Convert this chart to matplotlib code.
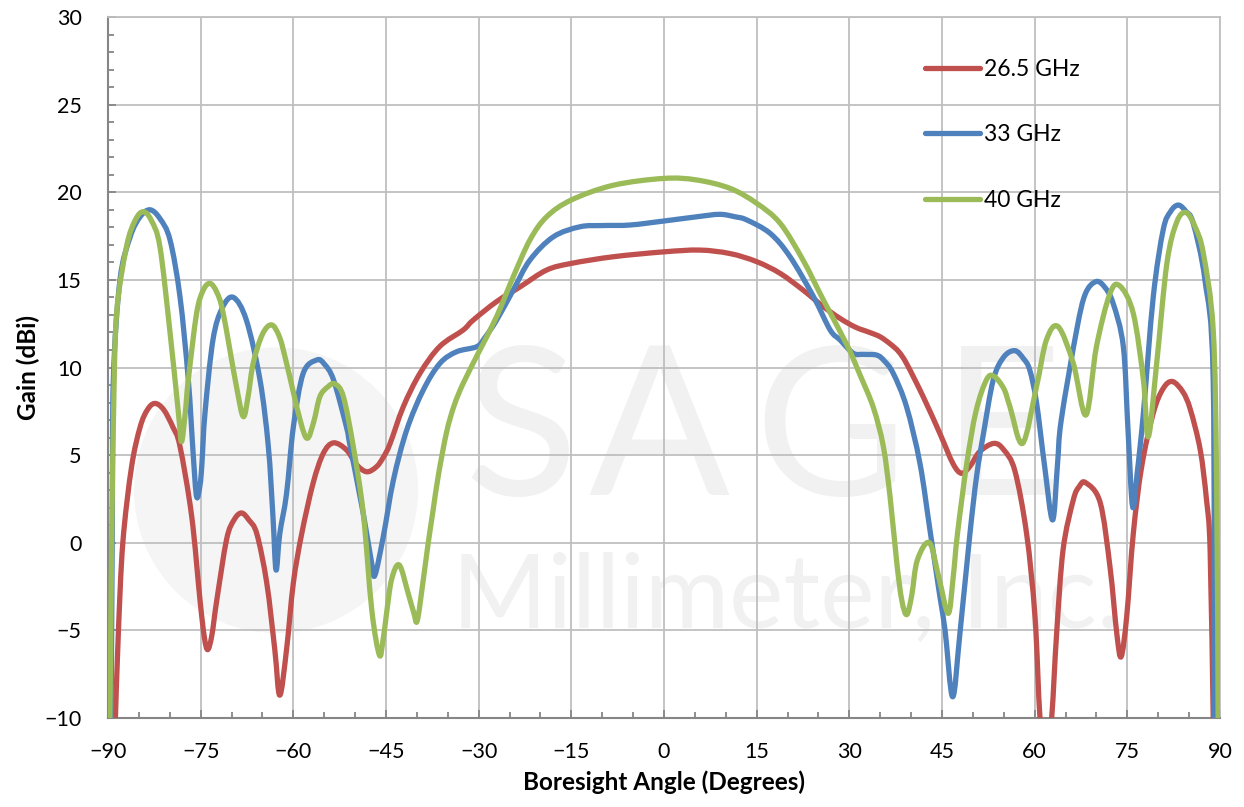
import numpy as np
import matplotlib.pyplot as plt
from matplotlib.ticker import MultipleLocator
from matplotlib.patches import Ellipse, PathPatch
from matplotlib.path import Path
from matplotlib.lines import Line2D

plt.rcParams['font.family'] = ['Lato', 'DejaVu Sans']

# 26.5 GHz
red_x = [-88.8, -88.33, -87.6, -86.2, -84.8, -83.6, -82.4, -81.0, -79.5, -78.35,
         -76.45, -75.1, -74.4, -73.86, -73.2, -72.4, -70.8, -69.6, -68.4, -67.2,
         -65.9, -64.3, -63.0, -62.2, -61.1, -60.0, -58.65, -56.8, -55.15, -53.5,
         -51.4, -49.75, -48.1, -46.5, -45.4, -44.35, -42.2, -39.5, -36.3, -32.5,
         -30.9, -27.1, -23.3, -19.0, -15.0, -8.2, 0.0, 5.8, 10.7, 15.0,
         18.8, 22.5, 25.8, 28.5, 31.0, 33.3, 35.0, 36.6, 38.0, 39.3,
         42.0, 44.7, 46.8, 48.2, 49.6, 51.1, 53.4, 55.0, 56.8, 58.7,
         60.05, 60.86, 61.8, 62.75, 63.55, 64.6, 66.25, 67.2, 68.25, 70.6,
         72.2, 73.3, 74.0, 74.9, 75.96, 77.3, 79.2, 80.8, 82.3, 84.0,
         85.2, 86.8, 87.8, 88.4, 88.9]
red_y = [-10.0, -5.2, 0.0, 4.3, 6.6, 7.6, 7.95, 7.6, 6.6, 5.5,
         1.5, -3.3, -5.4, -6.1, -5.3, -3.3, 0.2, 1.3, 1.7, 1.3,
         0.5, -2.3, -6.1, -8.7, -6.1, -2.3, 0.5, 3.4, 5.1, 5.7,
         5.3, 4.45, 4.05, 4.35, 4.9, 5.65, 7.76, 9.67, 11.2, 12.14,
         12.7, 13.76, 14.6, 15.56, 15.94, 16.32, 16.6, 16.7, 16.5, 16.04,
         15.37, 14.42, 13.47, 12.8, 12.3, 12.0, 11.75, 11.35, 10.9, 10.2,
         8.3, 6.2, 4.5, 3.96, 4.4, 5.2, 5.67, 5.3, 4.1, 0.5,
         -4.2, -10.0, -13.0, -10.0, -5.2, -0.4, 2.44, 3.2, 3.43, 2.3,
         -1.4, -5.2, -6.5, -4.2, 0.5, 4.3, 7.4, 8.8, 9.2, 8.6,
         7.6, 5.3, 2.5, -0.4, -10.0]

# 33 GHz
blue_x = [-89.5, -89.3, -89.14, -88.06, -86.4, -84.8, -83.2, -81.6, -79.96, -78.35,
          -77.0, -76.2, -75.66, -75.1, -74.8, -74.3, -73.0, -71.5, -69.7, -67.6,
          -65.4, -64.05, -63.3, -62.8, -62.2, -61.1, -60.0, -58.4, -56.2, -55.0,
          -53.5, -51.4, -50.8, -48.7, -47.3, -46.78, -45.44, -43.8, -41.65, -38.96,
          -36.26, -33.56, -30.3, -29.0, -27.1, -24.4, -21.7, -17.9, -13.6, -10.0,
          -5.5, 0.0, 5.3, 9.0, 11.5, 13.4, 17.2, 20.4, 24.2, 26.9,
          28.5, 30.65, 32.3, 34.4, 35.6, 37.1, 39.26, 41.43, 43.05, 44.67,
          45.5, 46.72, 47.9, 49.53, 50.6, 51.7, 53.3, 55.0, 56.8, 58.2,
          59.2, 60.3, 61.6, 62.9, 63.7, 64.3, 66.8, 68.2, 69.9, 71.3,
          72.7, 74.35, 75.1, 75.85, 76.6, 77.6, 79.2, 80.8, 82.0, 83.25,
          84.5, 85.67, 87.56, 88.9, 89.06]
blue_y = [-10.0, 1.0, 9.3, 15.0, 17.46, 18.6, 19.0, 18.5, 17.28, 14.04,
          9.3, 5.0, 2.63, 3.3, 4.5, 7.4, 11.6, 13.4, 14.0, 12.7,
          9.3, 5.5, 1.5, -1.55, 0.5, 2.8, 6.6, 9.67, 10.43, 10.2,
          9.3, 6.6, 5.5, 1.7, -1.2, -1.84, 0.35, 3.58, 6.43, 8.72,
          10.24, 10.9, 11.19, 11.7, 12.7, 14.42, 16.13, 17.46, 18.03, 18.1,
          18.13, 18.36, 18.6, 18.74, 18.6, 18.42, 17.65, 16.32, 14.04, 12.14,
          11.57, 10.81, 10.75, 10.71, 10.4, 9.67, 7.76, 4.53, 0.73, -3.1,
          -5.0, -8.79, -5.17, 0.54, 3.8, 6.2, 9.3, 10.6, 10.96, 10.5,
          9.86, 8.0, 4.4, 1.3, 4.5, 7.0, 12.14, 14.2, 14.9, 14.6,
          13.66, 11.2, 6.5, 2.06, 4.0, 7.4, 14.04, 17.85, 18.9, 19.27,
          18.9, 18.22, 15.0, 9.3, -10.0]

# 40 GHz
green_x = [-89.7, -89.4, -89.1, -88.6, -87.0, -85.6, -84.3, -83.0, -81.6, -80.0,
           -78.6, -78.1, -77.5, -77.0, -75.66, -74.6, -73.5, -72.4, -71.35, -69.2,
           -68.1, -67.3, -66.5, -65.0, -63.5, -62.2, -61.1, -58.9, -57.75, -56.7,
           -55.7, -54.4, -53.26, -51.9, -50.3, -48.68, -47.3, -46.08, -45.5, -44.9,
           -44.1, -42.85, -41.4, -40.5, -39.94, -39.0, -38.2, -37.4, -36.5, -35.2,
           -34.0, -32.5, -29.8, -27.1, -24.4, -21.7, -19.0, -15.0, -8.2, 0.0,
           5.3, 10.7, 15.0, 18.8, 22.5, 25.8, 29.6, 31.7, 33.9, 35.5,
           36.6, 37.7, 38.5, 39.3, 40.1, 41.0, 42.96, 44.5, 46.0, 46.8,
           47.5, 49.0, 50.5, 52.2, 53.4, 55.0, 56.0, 58.04, 60.3, 61.9,
           63.8, 66.25, 68.3, 70.0, 72.2, 73.8, 75.96, 77.6, 78.4, 79.75,
           81.4, 83.0, 84.5, 86.0, 87.3, 88.9, 89.45, 89.7]
green_y = [-10.0, 0.0, 7.4, 13.1, 16.9, 18.4, 18.89, 18.4, 16.9, 12.14,
           7.4, 5.77, 7.4, 9.3, 13.09, 14.4, 14.8, 14.3, 13.09, 8.9,
           7.2, 8.4, 10.24, 11.9, 12.43, 11.7, 10.24, 7.0, 5.96, 6.9,
           8.34, 8.9, 9.06, 8.34, 5.5, 1.68, -3.84, -6.4, -5.6, -4.0,
           -2.1, -1.27, -2.9, -4.0, -4.45, -2.2, -0.1, 1.8, 3.9, 6.3,
           7.8, 9.1, 11.0, 12.9, 15.18, 17.28, 18.6, 19.56, 20.4, 20.79,
           20.7, 20.22, 19.37, 18.23, 16.13, 13.85, 11.3, 9.6, 7.7, 5.5,
           2.6, -1.2, -3.3, -4.1, -3.0, -1.0, 0.0, -2.0, -4.03, -2.0,
           0.5, 4.5, 7.5, 9.3, 9.5, 8.8, 7.76, 5.67, 8.91, 11.57,
           12.33, 10.24, 7.29, 11.19, 14.23, 14.65, 13.09, 9.29, 6.05, 10.24,
           15.94, 18.3, 18.84, 18.0, 16.51, 12.14, 3.58, -10.0]

series = [("26.5 GHz", red_x, red_y, "#C0504D"),
          ("33 GHz", blue_x, blue_y, "#4F81BD"),
          ("40 GHz", green_x, green_y, "#9BBB59")]


def smooth_path(xs, ys, t=1 / 6):
    # bezier through the points, like a spreadsheet "smoothed line"
    p = np.column_stack([xs, ys])
    verts = [p[0]]
    codes = [Path.MOVETO]
    n = len(p)
    for i in range(n - 1):
        p0 = p[i - 1] if i > 0 else p[i]
        p3 = p[i + 2] if i + 2 < n else p[i + 1]
        verts += [p[i] + (p[i + 1] - p0) * t, p[i + 1] - (p3 - p[i]) * t, p[i + 1]]
        codes += [Path.CURVE4] * 3
    return Path(verts, codes)


fig = plt.figure(figsize=(12.44, 8.07), dpi=100)
ax = fig.add_axes([108 / 1244, 1 - 718 / 807, 1112 / 1244, 701 / 807])

# faint watermark
wm = "#f1f1f1"
ax.add_patch(Ellipse((-62.8, 3.0), 46.0, 16.3, color="#f5f5f5", zorder=0, lw=0))
for letter, lx in zip("SAGE", [-23.2, -0.9, 27.0, 54.8]):
    ax.text(lx, 2.75, letter, fontsize=150, color=wm, zorder=0, va="baseline",
            ha="center")
ax.text(-34.3, -4.8, "Millimeter, Inc.", fontsize=74, color=wm, zorder=0,
        va="baseline", ha="left")

handles = []
for name, xs, ys, c in series:
    ax.add_patch(PathPatch(smooth_path(xs, ys), facecolor="none", edgecolor=c,
                           lw=3.8, capstyle="round", joinstyle="round", zorder=3))
    handles.append(Line2D([], [], color=c, lw=3.8, solid_capstyle="round", label=name))

ax.set_xlim(-90, 90)
ax.set_ylim(-10, 30)
ax.xaxis.set_major_locator(MultipleLocator(15))
ax.xaxis.set_minor_locator(MultipleLocator(5))
ax.yaxis.set_major_locator(MultipleLocator(5))
ax.yaxis.set_minor_locator(MultipleLocator(1))
ax.grid(True, which="major", color="#BFBFBF", lw=1.3, zorder=1)
ax.set_axisbelow(True)

for s in ["top", "right"]:
    ax.spines[s].set_color("#BFBFBF")
    ax.spines[s].set_linewidth(1.3)
for s in ["left", "bottom"]:
    ax.spines[s].set_color("#868686")
    ax.spines[s].set_linewidth(1.5)

ax.tick_params(which="both", direction="in", color="#868686", width=1.3)
ax.tick_params(which="major", length=6, labelsize=15.5)
ax.tick_params(which="minor", length=4.5)
ax.tick_params(axis="y", which="major", pad=19)
ax.tick_params(axis="x", which="major", pad=17)

ax.set_xlabel("Boresight Angle (Degrees)", fontsize=17.5, fontweight="bold", labelpad=6)
ax.set_ylabel("Gain (dBi)", fontsize=17.5, fontweight="bold", labelpad=3)

ax.legend(handles=handles, loc="upper left", bbox_to_anchor=(904 / 1244, 1 - 38 / 807),
          bbox_transform=fig.transFigure, frameon=False, fontsize=16.5,
          handlelength=2.4, handletextpad=0.2, labelspacing=1.94)

fig.savefig("out.png", dpi=100)
